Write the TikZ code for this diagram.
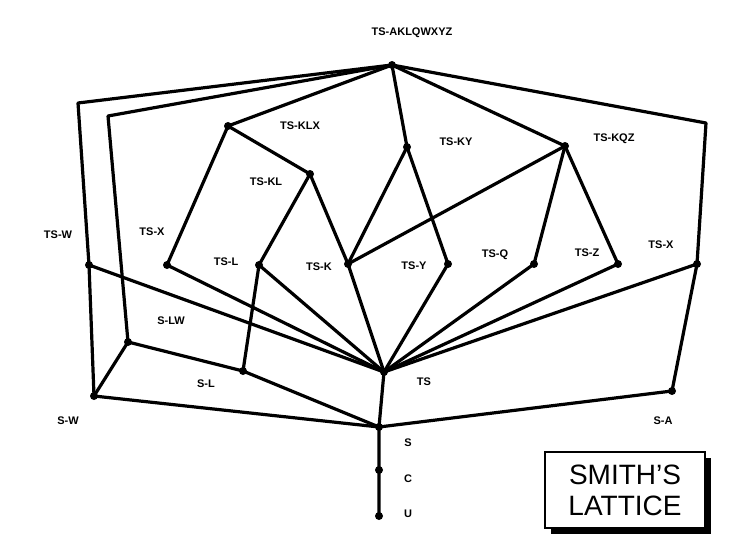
\documentclass[tikz,border=0pt]{standalone}
\usepackage{fontspec}
\setmainfont{Liberation Sans}
\begin{document}
\begin{tikzpicture}[x=1pt,y=-1pt,
 e/.style={line width=3.2pt,line cap=round,line join=round},
 dot/.style={circle,fill,inner sep=0pt,minimum size=8pt},
 lab/.style={font=\bfseries\fontsize{11}{12}\selectfont}]
\useasboundingbox (0,0) rectangle (729,551);
\node[dot] (T) at (392,65) {};
\node[dot] (KLX) at (228,126) {};
\node[dot] (KY) at (407,147) {};
\node[dot] (KQZ) at (565,146) {};
\node[dot] (KL) at (310,174) {};
\node[dot] (TW) at (89,265) {};
\node[dot] (TXl) at (167,265) {};
\node[dot] (TL) at (259,265) {};
\node[dot] (TK) at (348,264) {};
\node[dot] (TY) at (448,264) {};
\node[dot] (TQ) at (534,264) {};
\node[dot] (TZ) at (618,264) {};
\node[dot] (TXr) at (697,264) {};
\node[dot] (SLW) at (128,342) {};
\node[dot] (SL) at (243,371) {};
\node[dot] (TS) at (384,372) {};
\node[dot] (SW) at (94,396) {};
\node[dot] (SA) at (672,391) {};
\node[dot] (S) at (379,427) {};
\node[dot] (C) at (379,470) {};
\node[dot] (U) at (379,516) {};
\coordinate (c1) at (78,103);
\coordinate (c2) at (108,116);
\coordinate (c3) at (706,123);
\draw[e] (T.center) -- (c1) -- (TW.center) -- (SW.center) -- (S.center);
\draw[e] (T.center) -- (c2) -- (SLW.center) -- (SL.center) -- (S.center);
\draw[e] (SLW.center) -- (SW.center);
\draw[e] (T.center) -- (c3) -- (TXr.center) -- (SA.center) -- (S.center);
\draw[e] (T.center) -- (KLX.center) -- (TXl.center) -- (TS.center);
\draw[e] (KLX.center) -- (KL.center) -- (TL.center) -- (SL.center);
\draw[e] (KL.center) -- (TK.center);
\draw[e] (T.center) -- (KY.center) -- (TK.center);
\draw[e] (KY.center) -- (TY.center);
\draw[e] (T.center) -- (KQZ.center) -- (TK.center);
\draw[e] (KQZ.center) -- (TQ.center);
\draw[e] (KQZ.center) -- (TZ.center);
\foreach \n in {TW,TL,TK,TY,TQ,TZ,TXr} \draw[e] (\n.center) -- (TS.center);
\draw[e] (TS.center) -- (S.center) -- (C.center) -- (U.center);
\node[lab] at (412,33) {TS-AKLQWXYZ};
\node[lab] at (300,126) {TS-KLX};
\node[lab] at (456,142) {TS-KY};
\node[lab] at (614,139) {TS-KQZ};
\node[lab] at (266,182) {TS-KL};
\node[lab] at (58,235) {TS-W};
\node[lab] at (152,232) {TS-X};
\node[lab] at (226,262) {TS-L};
\node[lab] at (319,267) {TS-K};
\node[lab] at (414,266) {TS-Y};
\node[lab] at (495,255) {TS-Q};
\node[lab] at (587,253) {TS-Z};
\node[lab] at (661,245) {TS-X};
\node[lab] at (171,321) {S-LW};
\node[lab] at (206,384) {S-L};
\node[lab] at (424,382) {TS};
\node[lab] at (68,421) {S-W};
\node[lab] at (663,421) {S-A};
\node[lab] at (408,443) {S};
\node[lab] at (408,479) {C};
\node[lab] at (408,514) {U};
\fill (551,458) rectangle (711,534);
\node[draw,line width=1.2pt,fill=white,minimum width=160pt,minimum height=76pt,
  align=center,font=\fontsize{28}{31}\selectfont,inner sep=0pt] (title) at (625,490) {SMITH'S\\LATTICE};
\end{tikzpicture}
\end{document}
